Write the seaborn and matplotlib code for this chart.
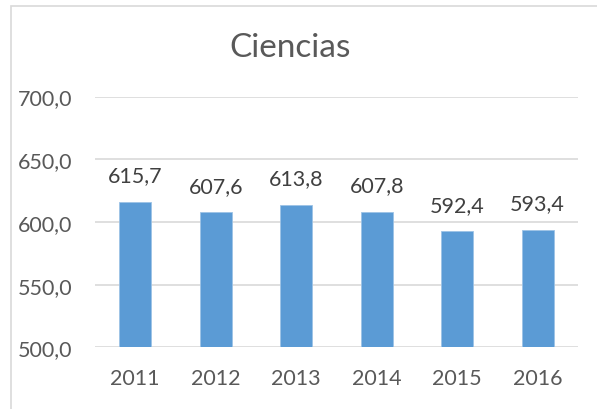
import numpy as np
import matplotlib.pyplot as plt
import pandas as pd
import seaborn as sns
from matplotlib.patches import Rectangle

years = ['2011', '2012', '2013', '2014', '2015', '2016']
scores = [615.7, 607.6, 613.8, 607.8, 592.4, 593.4]
yticks = [500, 550, 600, 650, 700]
title = 'Ciencias'

df = pd.DataFrame({'year': years, 'score': scores})

sns.set_style('white')
plt.rcParams['font.family'] = ['Lato', 'DejaVu Sans']
txt = '#595959'

fig = plt.figure(figsize=(5.97, 4.10), dpi=100)
ax = fig.add_axes([0.159, 0.1505, 0.809, 0.6115])

sns.barplot(data=df, x='year', y='score', color='#5B9BD5', width=0.4,
            edgecolor='#9DC3E6', linewidth=0.6, saturation=1, ax=ax, zorder=3)

ax.set_ylim(500, 700)
ax.set_yticks(yticks)
ax.set_yticklabels([f'{t:.1f}'.replace('.', ',') for t in yticks])
ax.grid(axis='y', color='#D9D9D9', linewidth=1.2, zorder=0)
ax.set_axisbelow(True)
sns.despine(ax=ax, left=True, bottom=True)
ax.tick_params(axis='both', length=0, labelsize=15.5, labelcolor=txt)
ax.tick_params(axis='y', pad=16)
ax.tick_params(axis='x', pad=15)
ax.set_xlabel('')
ax.set_ylabel('')

for i, v in enumerate(scores):
    ax.annotate(f'{v:.1f}'.replace('.', ','), (i, v), xytext=(0, 12),
                textcoords='offset points', ha='center', va='bottom',
                fontsize=15.5, color='#404040')

fig.text(0.486, 0.882, title, ha='center', va='center', fontsize=24, color=txt)

fig.patches.append(Rectangle((11 / 597, -0.1), 1.2, 1 - 7 / 410 + 0.1,
                             transform=fig.transFigure, fill=False,
                             edgecolor='#D9D9D9', linewidth=1.2))

fig.savefig('out.png', dpi=100)
